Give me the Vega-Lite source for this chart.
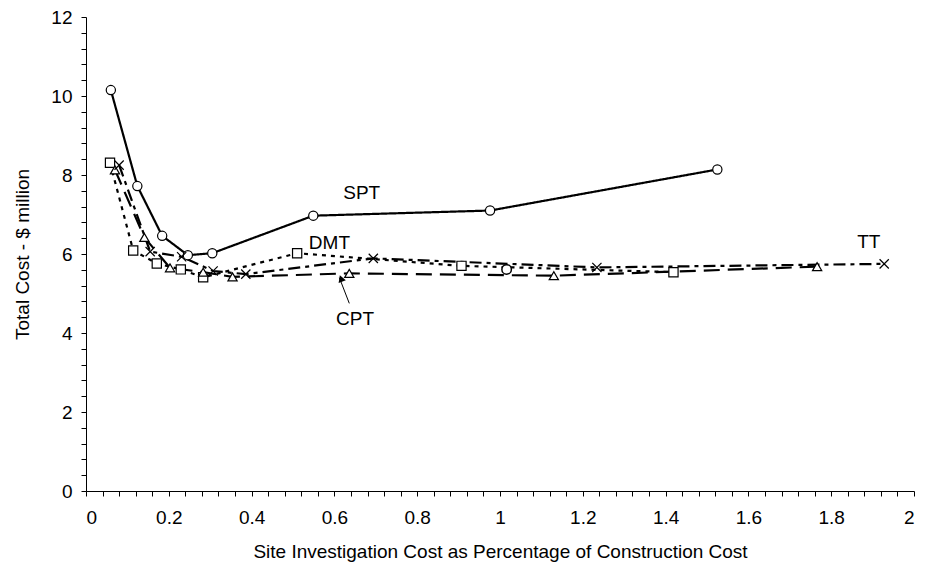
{
  "$schema": "https://vega.github.io/schema/vega-lite/v6.json",
  "width": 828,
  "height": 474,
  "autosize": "none",
  "padding": {"left": 86, "top": 17, "right": 13, "bottom": 82},
  "background": "white",
  "config": {
    "view": {"stroke": null},
    "font": "Liberation Sans",
    "axis": {
      "grid": false,
      "domainColor": "black",
      "domainWidth": 1,
      "tickColor": "black",
      "tickWidth": 1,
      "tickSize": 5,
      "labelColor": "black",
      "labelFont": "Liberation Sans",
      "labelFontSize": 19,
      "labelOverlap": false,
      "titleColor": "black",
      "titleFont": "Liberation Sans",
      "titleFontSize": 19,
      "titleFontWeight": "normal"
    }
  },
  "datasets": {
    "curves": [
      {"series": "SPT", "x": 0.060, "y": 10.15},
      {"series": "SPT", "x": 0.124, "y": 7.72},
      {"series": "SPT", "x": 0.184, "y": 6.46},
      {"series": "SPT", "x": 0.246, "y": 5.97},
      {"series": "SPT", "x": 0.305, "y": 6.02},
      {"series": "SPT", "x": 0.549, "y": 6.97},
      {"series": "SPT", "x": 0.976, "y": 7.10},
      {"series": "SPT", "x": 1.525, "y": 8.14},
      {"series": "DMT", "x": 0.058, "y": 8.31},
      {"series": "DMT", "x": 0.114, "y": 6.09},
      {"series": "DMT", "x": 0.171, "y": 5.76},
      {"series": "DMT", "x": 0.229, "y": 5.61},
      {"series": "DMT", "x": 0.283, "y": 5.41},
      {"series": "DMT", "x": 0.510, "y": 6.02},
      {"series": "DMT", "x": 0.907, "y": 5.70},
      {"series": "DMT", "x": 1.419, "y": 5.54},
      {"series": "CPT", "x": 0.070, "y": 8.13},
      {"series": "CPT", "x": 0.141, "y": 6.42},
      {"series": "CPT", "x": 0.203, "y": 5.65},
      {"series": "CPT", "x": 0.283, "y": 5.54},
      {"series": "CPT", "x": 0.354, "y": 5.42},
      {"series": "CPT", "x": 0.636, "y": 5.51},
      {"series": "CPT", "x": 1.130, "y": 5.45},
      {"series": "CPT", "x": 1.766, "y": 5.68},
      {"series": "TT", "x": 0.080, "y": 8.25},
      {"series": "TT", "x": 0.155, "y": 6.06},
      {"series": "TT", "x": 0.231, "y": 5.93},
      {"series": "TT", "x": 0.307, "y": 5.57},
      {"series": "TT", "x": 0.386, "y": 5.49},
      {"series": "TT", "x": 0.694, "y": 5.89},
      {"series": "TT", "x": 1.234, "y": 5.66},
      {"series": "TT", "x": 1.928, "y": 5.75}
    ],
    "stray": [
      {"x": 1.016, "y": 5.61}
    ],
    "labels": [
      {"text": "SPT", "x": 0.666, "y": 7.54},
      {"text": "DMT", "x": 0.588, "y": 6.28},
      {"text": "CPT", "x": 0.650, "y": 4.35},
      {"text": "TT", "x": 1.891, "y": 6.30}
    ],
    "arrow": [
      {"x": 0.636, "y": 4.75, "x2": 0.612, "y2": 5.40}
    ],
    "arrowhead": [
      {"x": 0.616, "y": 5.38}
    ]
  },
  "encoding": {
    "x": {
      "field": "x",
      "type": "quantitative",
      "scale": {"domain": [0, 2], "nice": false, "zero": false},
      "axis": {
        "title": "Site Investigation Cost as Percentage of Construction Cost",
        "values": [0, 0.04, 0.08, 0.12, 0.16, 0.2, 0.24, 0.28, 0.32, 0.36, 0.4, 0.44, 0.48, 0.52, 0.56, 0.6, 0.64, 0.68, 0.72, 0.76, 0.8, 0.84, 0.88, 0.92, 0.96, 1, 1.04, 1.08, 1.12, 1.16, 1.2, 1.24, 1.28, 1.32, 1.36, 1.4, 1.44, 1.48, 1.52, 1.56, 1.6, 1.64, 1.68, 1.72, 1.76, 1.8, 1.84, 1.88, 1.92, 1.96, 2],
        "labelExpr": "abs(datum.value * 5 - round(datum.value * 5)) < 0.000001 ? toString(round(datum.value * 10) / 10) : ''",
        "labelPadding": 12,
        "titlePadding": 15
      }
    },
    "y": {
      "field": "y",
      "type": "quantitative",
      "scale": {"domain": [0, 12], "nice": false},
      "axis": {
        "title": "Total Cost - $ million",
        "values": [0, 0.4, 0.8, 1.2, 1.6, 2, 2.4, 2.8, 3.2, 3.6, 4, 4.4, 4.8, 5.2, 5.6, 6, 6.4, 6.8, 7.2, 7.6, 8, 8.4, 8.8, 9.2, 9.6, 10, 10.4, 10.8, 11.2, 11.6, 12],
        "labelExpr": "abs(datum.value / 2 - round(datum.value / 2)) < 0.000001 ? toString(round(datum.value)) : ''",
        "labelPadding": 9,
        "titlePadding": 18
      }
    }
  },
  "layer": [
    {
      "data": {"name": "curves"},
      "mark": {"type": "line", "color": "black", "strokeWidth": 2.2},
      "encoding": {
        "detail": {"field": "series"},
        "strokeDash": {
          "field": "series",
          "type": "nominal",
          "scale": {"domain": ["SPT", "DMT", "CPT", "TT"], "range": [[1, 0], [4, 5], [16, 8], [12, 5, 4, 5]]},
          "legend": null
        }
      }
    },
    {
      "data": {"name": "curves"},
      "mark": {"type": "point", "filled": true, "fill": "white", "stroke": "black", "strokeWidth": 1.2, "size": 85, "opacity": 1},
      "encoding": {
        "shape": {
          "field": "series",
          "type": "nominal",
          "scale": {"domain": ["SPT", "DMT", "CPT", "TT"], "range": ["circle", "square", "triangle-up", "M-1,-1L1,1M-1,1L1,-1"]},
          "legend": null
        }
      }
    },
    {
      "data": {"name": "stray"},
      "mark": {"type": "point", "shape": "circle", "filled": true, "fill": "white", "stroke": "black", "strokeWidth": 1.5, "size": 90, "opacity": 1}
    },
    {
      "data": {"name": "labels"},
      "mark": {"type": "text", "fontSize": 19, "color": "black", "align": "center", "baseline": "middle", "font": "Liberation Sans"},
      "encoding": {"text": {"field": "text"}}
    },
    {
      "data": {"name": "arrow"},
      "mark": {"type": "rule", "color": "black", "strokeWidth": 1},
      "encoding": {
        "x2": {"field": "x2"},
        "y2": {"field": "y2"}
      }
    },
    {
      "data": {"name": "arrowhead"},
      "mark": {"type": "point", "shape": "triangle-up", "filled": true, "color": "black", "size": 60, "angle": -21, "opacity": 1}
    }
  ]
}
